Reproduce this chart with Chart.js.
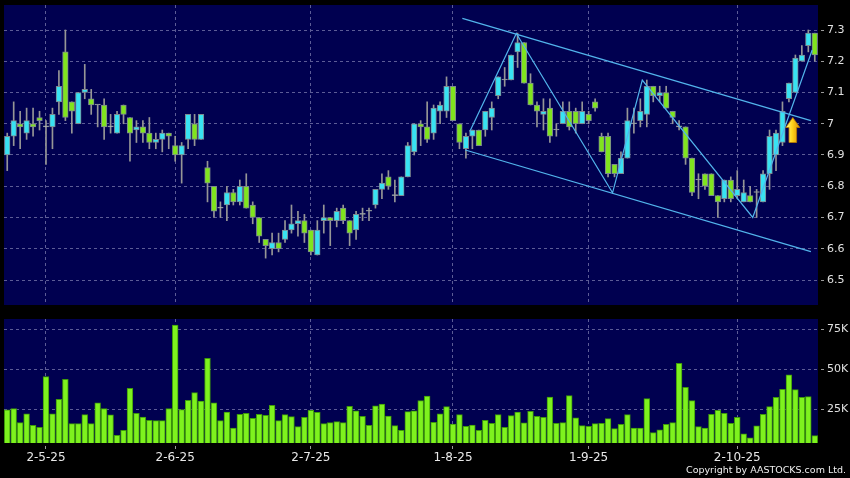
<!DOCTYPE html>
<html>
<head>
<meta charset="utf-8">
<script src="https://cdn.jsdelivr.net/npm/chart.js@4.4.1/dist/chart.umd.min.js"></script>
<style>
  html, body { margin: 0; padding: 0; background: #000; }
  #wrap { position: relative; width: 850px; height: 478px; overflow: hidden; background: #000; }
  canvas { position: absolute; left: 0; }
  #priceCanvas { top: 0; }
  #volCanvas { top: 310px; }
  #copy { position: absolute; right: 4px; top: 464px; line-height: 11px; color: #f0f0f0;
          font: 9.5px "DejaVu Sans", sans-serif; white-space: nowrap; }
</style>
</head>
<body>
<div id="wrap">
  <canvas id="priceCanvas" width="850" height="310"></canvas>
  <canvas id="volCanvas" width="850" height="168"></canvas>
  <div id="copy">Copyright by AASTOCKS.com Ltd.</div>
</div>
<script>
// daily candles, oldest first
const opens = [
  6.90, 6.96, 7.00, 6.97, 7.00, 7.02, 6.99, 6.99, 7.07, 7.23,
  7.07, 7.00, 7.10, 7.08, 7.06, 7.06, 6.99, 6.97, 7.06, 7.02,
  6.98, 6.99, 6.97, 6.94, 6.95, 6.97, 6.93, 6.90, 6.95, 7.00,
  6.95, 6.86, 6.80, 6.73, 6.74, 6.78, 6.75, 6.80, 6.74, 6.70,
  6.63, 6.60, 6.62, 6.63, 6.66, 6.68, 6.69, 6.66, 6.58, 6.69,
  6.70, 6.69, 6.73, 6.69, 6.66, 6.71, 6.72, 6.74, 6.79, 6.83,
  6.77, 6.77, 6.83, 6.91, 7.00, 6.99, 6.97, 7.04, 7.04, 7.12,
  7.00, 6.92, 6.96, 6.98, 6.98, 7.02, 7.09, 7.14, 7.14, 7.23,
  7.26, 7.13, 7.06, 7.03, 7.05, 6.98, 7.00, 7.04, 7.04, 7.00,
  7.03, 7.07, 6.96, 6.96, 6.87, 6.84, 6.89, 7.00, 7.01, 7.03,
  7.12, 7.09, 7.10, 7.04, 6.99, 6.99, 6.89, 6.82, 6.84, 6.84,
  6.77, 6.76, 6.82, 6.77, 6.75, 6.77, 6.78, 6.75, 6.84, 6.90,
  6.94, 7.08, 7.10, 7.20, 7.25, 7.29
];
const highs = [
  6.97, 7.07, 7.04, 7.05, 7.05, 7.04, 7.01, 7.05, 7.17, 7.30,
  7.07, 7.10, 7.19, 7.11, 7.06, 7.08, 7.03, 7.04, 7.06, 7.02,
  7.01, 7.01, 7.02, 6.97, 6.98, 6.97, 6.96, 6.94, 7.03, 7.03,
  7.03, 6.88, 6.80, 6.75, 6.80, 6.79, 6.82, 6.84, 6.75, 6.70,
  6.63, 6.65, 6.65, 6.69, 6.74, 6.72, 6.71, 6.66, 6.69, 6.74,
  6.70, 6.73, 6.74, 6.69, 6.72, 6.73, 6.73, 6.79, 6.84, 6.85,
  6.82, 6.83, 6.94, 7.00, 7.01, 7.07, 7.06, 7.07, 7.15, 7.12,
  7.00, 6.97, 6.98, 6.98, 7.04, 7.07, 7.15, 7.18, 7.22, 7.29,
  7.26, 7.16, 7.07, 7.08, 7.08, 7.00, 7.07, 7.07, 7.05, 7.07,
  7.04, 7.08, 6.97, 6.97, 6.87, 6.91, 7.05, 7.05, 7.08, 7.14,
  7.12, 7.12, 7.12, 7.04, 7.01, 6.99, 6.89, 6.84, 6.84, 6.84,
  6.77, 6.82, 6.83, 6.85, 6.82, 6.80, 6.79, 6.85, 6.98, 6.98,
  7.07, 7.13, 7.22, 7.25, 7.30, 7.29
];
const lows = [
  6.85, 6.93, 6.92, 6.95, 6.96, 6.98, 6.87, 6.92, 7.03, 7.01,
  6.97, 7.00, 7.08, 7.03, 6.99, 6.95, 6.97, 6.97, 7.00, 6.88,
  6.94, 6.94, 6.92, 6.92, 6.91, 6.92, 6.88, 6.81, 6.92, 6.93,
  6.95, 6.75, 6.70, 6.70, 6.69, 6.74, 6.74, 6.73, 6.68, 6.62,
  6.57, 6.58, 6.59, 6.62, 6.65, 6.64, 6.62, 6.58, 6.58, 6.65,
  6.61, 6.67, 6.68, 6.61, 6.63, 6.69, 6.69, 6.73, 6.76, 6.79,
  6.75, 6.77, 6.83, 6.90, 6.93, 6.94, 6.95, 7.00, 7.02, 7.01,
  6.92, 6.89, 6.92, 6.93, 6.96, 6.98, 7.08, 7.12, 7.14, 7.18,
  7.13, 7.06, 6.99, 6.98, 6.94, 6.96, 7.00, 6.98, 6.97, 7.00,
  7.00, 7.04, 6.91, 6.83, 6.83, 6.84, 6.89, 6.97, 6.99, 6.99,
  7.07, 7.07, 7.05, 7.00, 6.98, 6.87, 6.77, 6.76, 6.79, 6.77,
  6.70, 6.75, 6.75, 6.76, 6.75, 6.75, 6.70, 6.75, 6.79, 6.85,
  6.93, 7.07, 7.10, 7.20, 7.23, 7.20
];
const closes = [
  6.96, 7.01, 6.99, 7.01, 6.99, 7.01, 6.99, 7.03, 7.12, 7.02,
  7.04, 7.10, 7.11, 7.06, 7.06, 6.99, 6.99, 7.03, 7.03, 6.97,
  6.99, 6.97, 6.94, 6.95, 6.97, 6.96, 6.90, 6.93, 7.03, 6.95,
  7.03, 6.81, 6.72, 6.73, 6.78, 6.75, 6.80, 6.73, 6.70, 6.64,
  6.61, 6.62, 6.60, 6.66, 6.68, 6.69, 6.65, 6.59, 6.66, 6.70,
  6.69, 6.72, 6.69, 6.65, 6.71, 6.71, 6.72, 6.79, 6.81, 6.80,
  6.77, 6.83, 6.93, 7.00, 6.99, 6.95, 7.05, 7.06, 7.12, 7.01,
  6.94, 6.96, 6.98, 6.93, 7.04, 7.05, 7.15, 7.14, 7.22, 7.26,
  7.13, 7.06, 7.04, 7.04, 6.96, 6.98, 7.04, 6.99, 7.00, 7.04,
  7.01, 7.05, 6.91, 6.84, 6.84, 6.89, 7.01, 7.00, 7.04, 7.12,
  7.09, 7.10, 7.05, 7.02, 6.99, 6.89, 6.78, 6.82, 6.80, 6.77,
  6.75, 6.82, 6.76, 6.79, 6.78, 6.75, 6.78, 6.84, 6.96, 6.97,
  7.04, 7.13, 7.21, 7.22, 7.29, 7.22
];
const volumes = [
  24600, 25400, 16700, 22100, 15000, 13800, 45400, 22100, 31300, 43800,
  16000, 16000, 21700, 16000, 29000, 25400, 21500, 8800, 11900, 38100,
  22500, 20200, 18100, 17900, 17900, 25400, 77700, 24800, 30600, 35400,
  30200, 56900, 29000, 17900, 23300, 13300, 21900, 22500, 19400, 21900,
  21300, 27500, 17900, 21700, 20400, 14200, 20000, 24400, 23100, 16000,
  16700, 17300, 16700, 26900, 24000, 20600, 15000, 27100, 28300, 20800,
  14800, 11900, 23500, 24000, 30400, 33300, 16900, 22100, 26700, 15800,
  21700, 14400, 15200, 11900, 18100, 16300, 21700, 13800, 21000, 23300,
  16500, 23800, 20600, 20000, 32700, 16300, 16700, 33500, 19600, 14800,
  14400, 16000, 16300, 19200, 12900, 15600, 21700, 13300, 13300, 31700,
  10400, 12100, 15600, 16700, 53800, 38800, 30400, 14200, 13300, 21900,
  24400, 22500, 16300, 20000, 9600, 7100, 14600, 21900, 26700, 32500,
  37500, 46500, 37300, 32500, 32900, 8500
];

// x axis labels sit on these candle indices
const xTickIdx = [6, 26, 47, 69, 90, 113];
const xTickText = ["2-5-25", "2-6-25", "2-7-25", "1-8-25", "1-9-25", "2-10-25"];
const priceTicks = [6.5, 6.6, 6.7, 6.8, 6.9, 7.0, 7.1, 7.2, 7.3];
const volTicks = [25000, 50000, 75000];
const priceMin = 6.42, priceMax = 7.38;
const volMin = 3940, volMax = 81440;

// drawn trend lines: [candle index, price]
const channelTop = [[70.45, 7.337], [124.4, 7.01]];
const channelBottom = [[70.9, 6.916], [124.4, 6.591]];
const zigzag = [[71.6, 6.975], [78.8, 7.289], [93.7, 6.779], [98.3, 7.14], [115.4, 6.70], [124.6, 7.236]];
const arrowMark = { idx: 121.6, top: 7.02, bottom: 6.94 };

const UP = "#38e2f2", DOWN = "#80e41e", DOJI = "#b4b4b4";
const WICK = "#969696", BODY_EDGE = "#7c8890";
const VOL_FILL = "#7ef21e", VOL_EDGE = "#3e9a0a";
const GRID = "#5c5c96", LINE = "#52b4ec";
const PLOT_BG = "#000050";
const FONT = "'DejaVu Sans', sans-serif";

const idx = opens.map((_, i) => i);
const bodyColors = opens.map((o, i) => closes[i] > o ? UP : (closes[i] < o ? DOWN : DOJI));

const plotBg = {
    id: "plotBg",
    beforeDraw(chart) {
        const { ctx, chartArea: a } = chart;
        ctx.save();
        ctx.fillStyle = PLOT_BG;
        ctx.fillRect(a.left, a.top, a.right - a.left, a.bottom - a.top);
        ctx.restore();
    },
};

const arrowPlugin = {
    id: "arrowMark",
    afterDatasetsDraw(chart) {
        const { ctx, scales: { x, y } } = chart;
        const cx = x.getPixelForValue(arrowMark.idx);
        const top = y.getPixelForValue(arrowMark.top);
        const bot = y.getPixelForValue(arrowMark.bottom);
        const head = 10, hw = 7, sw = 3.8;
        const g = ctx.createLinearGradient(cx - hw, 0, cx + hw, 0);
        g.addColorStop(0, "#fff48a");
        g.addColorStop(0.45, "#ffd51c");
        g.addColorStop(1, "#d98a00");
        ctx.save();
        ctx.beginPath();
        ctx.moveTo(cx, top);
        ctx.lineTo(cx + hw, top + head);
        ctx.lineTo(cx + sw, top + head);
        ctx.lineTo(cx + sw, bot);
        ctx.lineTo(cx - sw, bot);
        ctx.lineTo(cx - sw, top + head);
        ctx.lineTo(cx - hw, top + head);
        ctx.closePath();
        ctx.fillStyle = g;
        ctx.fill();
        ctx.strokeStyle = "#b87800";
        ctx.lineWidth = 0.8;
        ctx.stroke();
        ctx.restore();
    },
};

// keep label overhang from shrinking the plot area
function noPadding(s) {
    s.paddingTop = 0;
    s.paddingBottom = 0;
    s.paddingLeft = 0;
    s.paddingRight = 0;
}

function xScale(showLabels) {
    return {
        type: "linear",
        min: -0.5,
        max: opens.length - 0.5,
        offset: false,
        afterBuildTicks: (s) => { s.ticks = xTickIdx.map((v) => ({ value: v })); },
        grid: {
            color: GRID,
            offset: false,
            drawTicks: showLabels,
            tickLength: 6,
            tickColor: "#9a9a9a",
            tickBorderDash: [0, 3, 3, 0],
        },
        border: { display: false, dash: [3, 3] },
        ticks: {
            display: showLabels,
            autoSkip: false,
            maxRotation: 0,
            color: "#e8e8e8",
            padding: 2,
            font: { family: FONT, size: 12 },
            callback: (v, i) => xTickText[i],
        },
        afterFit: (s) => { s.height = showLabels ? 35 : 0; noPadding(s); },
    };
}

function yScale(min, max, tickValues, fmt) {
    return {
        position: "right",
        min: min,
        max: max,
        beginAtZero: false,
        afterBuildTicks: (s) => { s.ticks = tickValues.map((v) => ({ value: v })); },
        grid: {
            color: GRID,
            tickLength: 6,
            tickColor: "#9a9a9a",
            tickBorderDash: [0, 3, 3, 0],
        },
        border: { display: false, dash: [3, 3] },
        ticks: {
            color: "#e0e0e0",
            padding: 3,
            font: { family: FONT, size: 11 },
            callback: fmt,
        },
        afterFit: (s) => { s.width = 32; noPadding(s); },
    };
}

function trendLine(points) {
    return {
        type: "line",
        data: points.map((p) => ({ x: p[0], y: p[1] })),
        borderColor: LINE,
        borderWidth: 1.2,
        pointRadius: 0,
        fill: false,
        tension: 0,
        order: 0,
    };
}

new Chart(document.getElementById("priceCanvas"), {
    type: "bar",
    data: {
        datasets: [
            {
                data: idx.map((i) => ({ x: i, y: [lows[i], highs[i]] })),
                backgroundColor: WICK,
                barThickness: 1,
                grouped: false,
                order: 3,
            },
            {
                data: idx.map((i) => ({ x: i, y: [opens[i], closes[i]] })),
                backgroundColor: bodyColors,
                borderColor: BODY_EDGE,
                borderWidth: 1,
                borderSkipped: false,
                barThickness: 5.6,
                minBarLength: 1,
                grouped: false,
                order: 2,
            },
            trendLine(channelTop),
            trendLine(channelBottom),
            trendLine(zigzag),
        ],
    },
    options: {
        responsive: false,
        animation: false,
        events: [],
        layout: { padding: { left: 4, top: 5, right: 0, bottom: 5 } },
        plugins: { legend: { display: false }, tooltip: { enabled: false } },
        scales: {
            x: xScale(false),
            y: yScale(priceMin, priceMax, priceTicks, (v) => String(Math.round(v * 10) / 10)),
        },
    },
    plugins: [plotBg, arrowPlugin],
});

new Chart(document.getElementById("volCanvas"), {
    type: "bar",
    data: {
        datasets: [
            {
                data: idx.map((i) => ({ x: i, y: volumes[i] })),
                base: volMin,
                backgroundColor: VOL_FILL,
                borderColor: VOL_EDGE,
                borderWidth: 1,
                barThickness: 5.8,
            },
        ],
    },
    options: {
        responsive: false,
        animation: false,
        events: [],
        layout: { padding: { left: 4, top: 9, right: 0, bottom: 0 } },
        plugins: { legend: { display: false }, tooltip: { enabled: false } },
        scales: {
            x: xScale(true),
            y: yScale(volMin, volMax, volTicks, (v) => (v / 1000) + "K"),
        },
    },
    plugins: [plotBg],
});
</script>
</body>
</html>
